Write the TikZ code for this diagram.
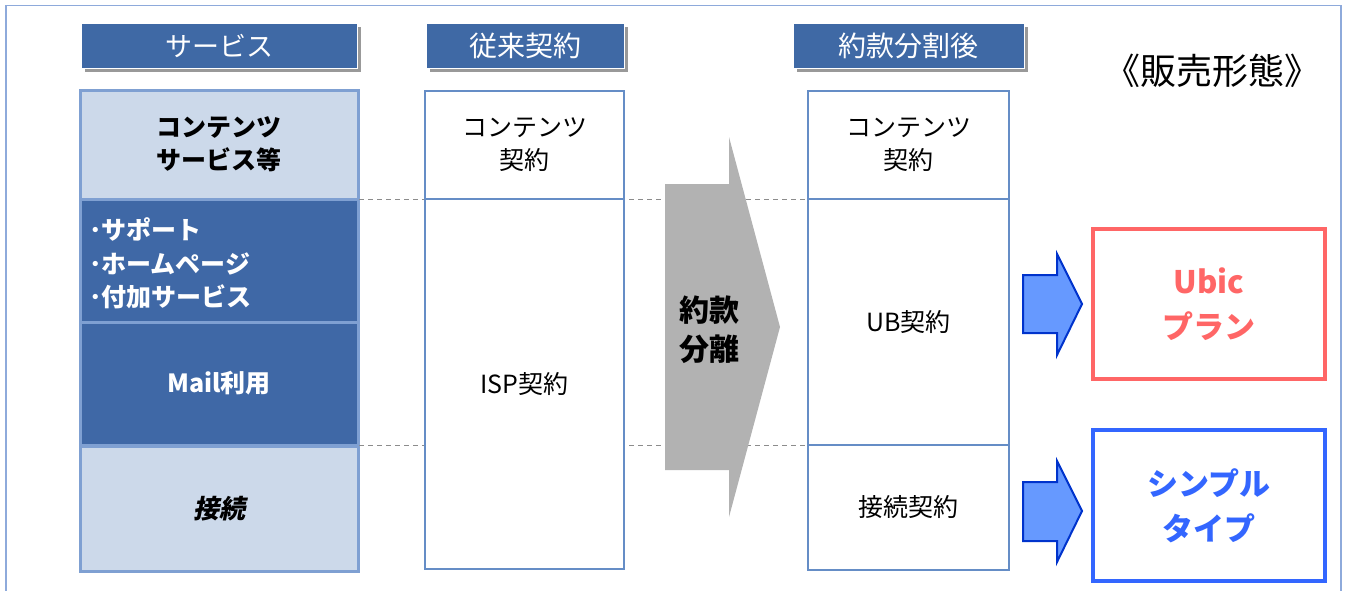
\documentclass[tikz,border=0pt]{standalone}
\usepackage{fontspec}
\setmainfont{Noto Sans CJK JP}
\newfontfamily\jpit[FakeSlant=0.2]{Noto Sans CJK JP}
\usetikzlibrary{shadows}
\definecolor{hdrblue}{HTML}{3F69A5}
\definecolor{darkc}{HTML}{3F68A6}
\definecolor{lightc}{HTML}{CCD9EA}
\definecolor{svcborder}{HTML}{7FA0D2}
\definecolor{colborder}{HTML}{658DC6}
\definecolor{framec}{HTML}{8EAADB}
\definecolor{arrowgray}{HTML}{B2B2B2}
\definecolor{shadowgray}{HTML}{999999}
\definecolor{barrow}{HTML}{6699FF}
\definecolor{barrowb}{HTML}{0033CC}
\definecolor{ubicred}{HTML}{FF6666}
\definecolor{simpleblue}{HTML}{3366FF}
\definecolor{dashc}{HTML}{8C8C8C}
\tikzset{
  hdr/.style={fill=hdrblue, draw=white, line width=0.8pt, text=white, minimum height=45pt,
    inner sep=0pt, font=\fontsize{27}{30}\selectfont,
    drop shadow={shadow xshift=4pt, shadow yshift=-4pt, fill=shadowgray, opacity=1}},
  svc/.style={draw=svcborder, line width=3pt, minimum width=278pt, inner sep=0pt,
    align=center, font=\bfseries\fontsize{25}{33}\selectfont},
  col/.style={draw=colborder, fill=white, line width=1.5pt, inner sep=0pt, align=center,
    font=\fontsize{25}{33}\selectfont},
  dashline/.style={dashc, dashed, line width=1pt, dash pattern=on 5pt off 4pt},
  plan/.style={fill=white, line width=3.5pt, minimum width=232pt, inner sep=0pt, align=center,
    font=\bfseries\fontsize{31}{45}\selectfont},
  bluearrow/.style={fill=barrow, draw=barrowb, line width=2pt, line join=miter},
}
\begin{document}
\begin{tikzpicture}[x=1pt,y=-1pt]
\useasboundingbox (0,0) rectangle (1346,590);
% frame
\draw[framec, line width=1.2pt] (6,592) -- (6,5.5) -- (1341,5.5) -- (1341,592);

% headers
\node[hdr, minimum width=276pt] (h1) at (219,45.5) {サービス};
\node[hdr, minimum width=198pt, font=\fontsize{28}{30}\selectfont] (h2) at (525,45.5) {従来契約};
\node[hdr, minimum width=231pt, font=\fontsize{28}{30}\selectfont] (h3) at (908.5,45.5) {約款分割後};
\node[font=\fontsize{36}{38}\selectfont, inner sep=0pt] (title) at (1212,71) {《販売形態》};

% service column cells
\node[svc, fill=lightc, minimum height=109pt] (s1) at (219,144.5) {\raisebox{-3pt}{\parbox{200pt}{\centering コンテンツ\\サービス等}}};
\node[svc, fill=darkc, minimum height=123pt] (s2) at (219,260.5) {};
\node[svc, fill=darkc, minimum height=123pt, text=white] (s3) at (219,383.5) {Mail利用};
\node[svc, fill=lightc, minimum height=125pt, font=\jpit\bfseries\fontsize{26}{33}\selectfont] (s4) at (219,508.5) {接続};
\node[anchor=west, align=left, text=white, inner sep=0pt, font=\bfseries\fontsize{25}{33.5}\selectfont] (s2t) at (89,263.5)
  {･サポート\\･ホームページ\\･付加サービス};

% right column placeholders for dashed connectors
\coordinate (k1sw) at (808,199);
\coordinate (k2sw) at (808,445);

% dashed lines (drawn behind)
\draw[dashline] (359,199) coordinate (d1a) -- (k1sw);
\draw[dashline] (359,445) coordinate (d2a) -- (k2sw);

% middle column
\node[col, minimum width=199pt, minimum height=108pt] (j1) at (524.5,145) {\raisebox{-3pt}{\parbox{190pt}{\centering コンテンツ\\契約}}};
\node[col, minimum width=199pt, minimum height=370pt] (j2) at (524.5,384) {ISP契約};

% gray arrow
\fill[arrowgray] (665,184) -- (729,184) -- (729,137) -- (780,327) -- (729,517) -- (729,470) -- (665,470) -- cycle;
\node[align=center, inner sep=0pt, font=\bfseries\fontsize{30}{39}\selectfont] (split) at (709,330) {約款\\分離};

% right column
\node[col, minimum width=201pt, minimum height=108pt] (k1) at (908.5,145) {\raisebox{-3pt}{\parbox{190pt}{\centering コンテンツ\\契約}}};
\node[col, line width=2.5pt, minimum width=201pt, minimum height=246pt] (k2) at (908.5,322) {UB契約};
\node[col, line width=2.5pt, minimum width=201pt, minimum height=125pt] (k3) at (908.5,507.5) {接続契約};

% blue arrows
\draw[bluearrow] (1023,275) -- (1057,275) -- (1057,254) -- (1082,304) -- (1057,355) -- (1057,333) -- (1023,333) -- cycle;
\draw[bluearrow] (1023,482) -- (1057,482) -- (1057,461) -- (1082,511) -- (1057,562) -- (1057,541) -- (1023,541) -- cycle;

% plan boxes
\node[plan, draw=ubicred, text=ubicred, minimum height=150pt] (ubic) at (1209,304) {Ubic\\プラン};
\node[plan, draw=simpleblue, text=simpleblue, minimum height=151pt] (simple) at (1209,505.5) {シンプル\\タイプ};
\end{tikzpicture}
\end{document}
